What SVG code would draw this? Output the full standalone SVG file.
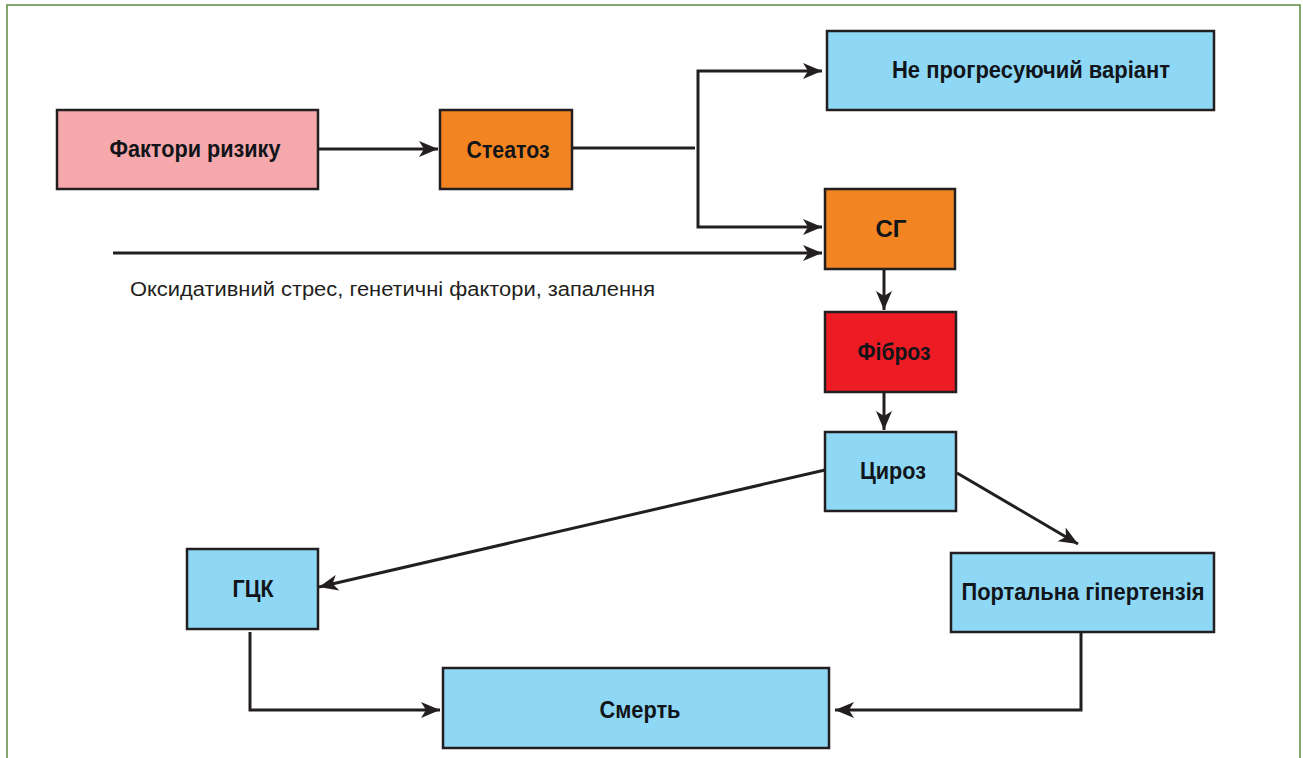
<svg xmlns="http://www.w3.org/2000/svg" width="1303" height="758" viewBox="0 0 1303 758">
<style>
.box{stroke:#231f20;stroke-width:2.5}
.pink{fill:#f6a9ad}
.orange{fill:#f28522}
.red{fill:#ed1c24}
.blue{fill:#8ed8f6}
.t{font-family:"Liberation Sans",Arial,sans-serif;font-weight:bold;font-size:24px;fill:#111418;text-anchor:middle}
.c{fill:none;stroke:#231f20;stroke-width:3}
.note{font-family:"Liberation Sans",Arial,sans-serif;font-size:20px;fill:#231f20}
</style>
<defs>
<marker id="ah" viewBox="-20 -10 22 20" refX="0" refY="0" markerWidth="22" markerHeight="20" markerUnits="userSpaceOnUse" orient="auto-start-reverse">
<path d="M0,0 L-19,-8 L-14,0 L-19,8 Z" fill="#231f20"/>
</marker>
</defs>
<rect x="0" y="0" width="1303" height="758" fill="#ffffff"/>
<rect x="7" y="5" width="1293" height="770" fill="none" stroke="#5b8a3a" stroke-width="1.5"/>

<g id="connectors">
<line class="c" x1="318" y1="149" x2="438" y2="149" marker-end="url(#ah)"/>
<line class="c" x1="572" y1="148" x2="695" y2="148"/>
<polyline class="c" points="822,71 698,71 698,227 822,227" marker-start="url(#ah)" marker-end="url(#ah)"/>
<line class="c" x1="113" y1="253" x2="822" y2="253" marker-end="url(#ah)"/>
<line class="c" x1="884" y1="270" x2="884" y2="310" marker-end="url(#ah)"/>
<line class="c" x1="884" y1="390" x2="884" y2="430" marker-end="url(#ah)"/>
<line class="c" x1="825" y1="470" x2="319" y2="587" marker-end="url(#ah)"/>
<line class="c" x1="957" y1="473" x2="1078" y2="544" marker-end="url(#ah)"/>
<polyline class="c" points="250,632 250,710 440,710" marker-end="url(#ah)"/>
<polyline class="c" points="1081,633 1081,710 835,710" marker-end="url(#ah)"/>
</g>

<g id="note">
<text class="note" x="130" y="296" textLength="525" lengthAdjust="spacingAndGlyphs">Оксидативний стрес, генетичні фактори, запалення</text>
</g>

<g id="n-risk">
<rect class="box pink" x="57" y="110" width="261" height="79"/>
<text class="t" x="195" y="157" textLength="171" lengthAdjust="spacingAndGlyphs">Фактори ризику</text>
</g>
<g id="n-steatosis">
<rect class="box orange" x="440" y="110" width="132" height="79"/>
<text class="t" x="508" y="158" textLength="83" lengthAdjust="spacingAndGlyphs">Стеатоз</text>
</g>
<g id="n-nonprog">
<rect class="box blue" x="827" y="31" width="387" height="79"/>
<text class="t" x="1031" y="78" textLength="278" lengthAdjust="spacingAndGlyphs">Не прогресуючий варіант</text>
</g>
<g id="n-sg">
<rect class="box orange" x="825" y="189" width="130" height="80"/>
<text class="t" x="891" y="237" textLength="31" lengthAdjust="spacingAndGlyphs">СГ</text>
</g>
<g id="n-fibrosis">
<rect class="box red" x="825" y="312" width="131" height="80"/>
<text class="t" x="894" y="360" textLength="73" lengthAdjust="spacingAndGlyphs">Фіброз</text>
</g>
<g id="n-cirrhosis">
<rect class="box blue" x="825" y="432" width="131" height="79"/>
<text class="t" x="893" y="479" textLength="66" lengthAdjust="spacingAndGlyphs">Цироз</text>
</g>
<g id="n-hcc">
<rect class="box blue" x="187" y="549" width="131" height="80"/>
<text class="t" x="253" y="597" textLength="41" lengthAdjust="spacingAndGlyphs">ГЦК</text>
</g>
<g id="n-portal">
<rect class="box blue" x="951" y="553" width="263" height="79"/>
<text class="t" x="1083" y="600" textLength="243" lengthAdjust="spacingAndGlyphs">Портальна гіпертензія</text>
</g>
<g id="n-death">
<rect class="box blue" x="443" y="668" width="386" height="80"/>
<text class="t" x="640" y="718" textLength="81" lengthAdjust="spacingAndGlyphs">Смерть</text>
</g>
</svg>
